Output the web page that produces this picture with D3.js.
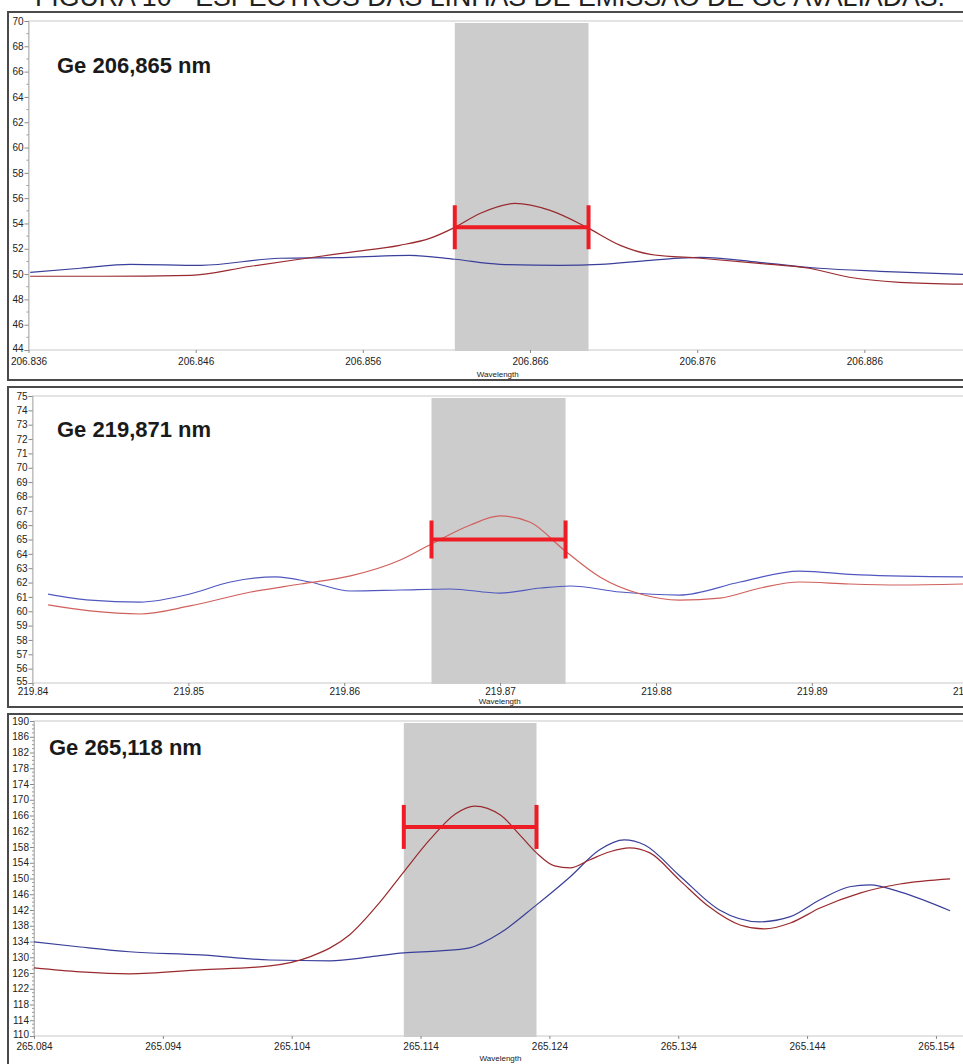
<!DOCTYPE html>
<html>
<head>
<meta charset="utf-8">
<script src="https://cdn.jsdelivr.net/npm/d3@7"></script>
<style>
  html, body { margin: 0; padding: 0; background: #fff; overflow: hidden; }
  svg { display: block; }
  .tick text { font-family: "Liberation Sans Narrow", "Arial Narrow", "Liberation Sans", Arial, sans-serif; font-size: 10px; fill: #222; }
</style>
</head>
<body>
<svg id="chart" width="963" height="1064"></svg>
<script>
// ---- Ge 206,865 nm ----
const ge206RedWl  = [206.8361, 206.8403, 206.8457, 206.8492, 206.8522, 206.8552, 206.8582, 206.8600, 206.8615, 206.8630, 206.8651, 206.8672, 206.8694, 206.8714, 206.8732, 206.8762, 206.8797, 206.8827, 206.8851, 206.8881, 206.8919];
const ge206RedInt = [49.83, 49.83, 49.90, 50.60, 51.17, 51.72, 52.27, 52.82, 53.69, 54.79, 55.58, 55.03, 53.69, 52.27, 51.56, 51.25, 50.85, 50.46, 49.75, 49.35, 49.20];
const ge206BlueWl  = [206.8361, 206.8391, 206.8421, 206.8463, 206.8510, 206.8552, 206.8588, 206.8615, 206.8642, 206.8678, 206.8702, 206.8732, 206.8762, 206.8797, 206.8833, 206.8869, 206.8919];
const ge206BlueInt = [50.14, 50.46, 50.77, 50.69, 51.25, 51.32, 51.48, 51.17, 50.77, 50.69, 50.77, 51.09, 51.32, 50.93, 50.46, 50.22, 49.98];
const ge206Window = [206.8615, 206.8695];
const ge206Level = 53.7;

// ---- Ge 219,871 nm ----
const ge219RedWl  = [219.8410, 219.8437, 219.8469, 219.8501, 219.8540, 219.8572, 219.8604, 219.8636, 219.8656, 219.8681, 219.8700, 219.8719, 219.8741, 219.8764, 219.8790, 219.8815, 219.8841, 219.8867, 219.8892, 219.8924, 219.8956, 219.8997];
const ge219RedInt = [60.44, 60.02, 59.81, 60.37, 61.34, 61.90, 62.46, 63.57, 64.69, 66.01, 66.64, 66.22, 64.27, 62.39, 61.20, 60.78, 60.92, 61.62, 62.04, 61.90, 61.83, 61.90];
const ge219BlueWl  = [219.8410, 219.8437, 219.8469, 219.8501, 219.8527, 219.8556, 219.8578, 219.8604, 219.8636, 219.8668, 219.8700, 219.8726, 219.8745, 219.8777, 219.8815, 219.8854, 219.8892, 219.8931, 219.8997];
const ge219BlueInt = [61.20, 60.78, 60.64, 61.20, 62.04, 62.39, 62.04, 61.41, 61.48, 61.55, 61.27, 61.62, 61.76, 61.34, 61.13, 62.04, 62.80, 62.53, 62.39];
const ge219Window = [219.8656, 219.8742];
const ge219Level = 65.0;

// ---- Ge 265,118 nm ----
const ge265RedWl  = [265.0840, 265.0876, 265.0914, 265.0969, 265.1023, 265.1054, 265.1085, 265.1108, 265.1127, 265.1147, 265.1167, 265.1182, 265.1202, 265.1217, 265.1230, 265.1244, 265.1256, 265.1271, 265.1287, 265.1302, 265.1318, 265.1341, 265.1364, 265.1388, 265.1407, 265.1427, 265.1450, 265.1481, 265.1512, 265.1551];
const ge265RedInt = [127.3, 126.3, 125.8, 126.8, 127.8, 130.1, 135.7, 143.8, 151.7, 159.8, 166.4, 168.4, 166.1, 161.1, 156.5, 153.2, 152.7, 154.7, 156.8, 157.8, 156.5, 149.6, 142.8, 138.2, 137.2, 138.7, 142.5, 146.3, 148.6, 149.9];
const ge265BlueWl  = [265.0840, 265.0876, 265.0914, 265.0969, 265.1023, 265.1070, 265.1101, 265.1127, 265.1155, 265.1178, 265.1202, 265.1230, 265.1256, 265.1279, 265.1298, 265.1314, 265.1341, 265.1372, 265.1403, 265.1427, 265.1450, 265.1473, 265.1489, 265.1512, 265.1551];
const ge265BlueInt = [133.9, 132.6, 131.4, 130.6, 129.3, 129.1, 130.1, 131.1, 131.6, 132.4, 136.2, 143.3, 150.4, 157.3, 159.8, 158.5, 150.7, 142.0, 139.0, 140.3, 144.6, 147.9, 148.4, 146.6, 141.8];
const ge265Window = [265.1127, 265.1230];
const ge265Level = 163.1;

// axis ticks
const ge206XTicks = [206.836, 206.846, 206.856, 206.866, 206.876, 206.886];
const ge219XTicks = [219.84, 219.85, 219.86, 219.87, 219.88, 219.89, 219.90];
const ge265XTicks = [265.084, 265.094, 265.104, 265.114, 265.124, 265.134, 265.144, 265.154];

const titleText = "FIGURA 10 - ESPECTROS DAS LINHAS DE EMISSÃO DE Ge AVALIADAS.";
const panelLabels = ["Ge 206,865 nm", "Ge 219,871 nm", "Ge 265,118 nm"];

const panels = [
  {
    label: panelLabels[0], red: [ge206RedWl, ge206RedInt], blue: [ge206BlueWl, ge206BlueInt],
    window: ge206Window, level: ge206Level, xTicks: ge206XTicks, xFmt: d3.format(".3f"),
    xDomain: [206.836, 206.8919], yDomain: [44, 70], yStep: 2, yMinor: 1,
    frame: [12, 380], plot: { left: 28.5, top: 21, bottom: 350 }, labelPos: [57, 73],
    redColor: "#9a2a2e", blueColor: "#3a3f9a", capHalf: 22,
    xPad: 5, xFont: "Liberation Sans, Arial, sans-serif", titleDy: 27
  },
  {
    label: panelLabels[1], red: [ge219RedWl, ge219RedInt], blue: [ge219BlueWl, ge219BlueInt],
    window: ge219Window, level: ge219Level, xTicks: ge219XTicks, xFmt: d3.format(".2f"),
    xDomain: [219.84, 219.8997], yDomain: [55, 75], yStep: 1, yMinor: null,
    frame: [387, 707], plot: { left: 32.5, top: 396, bottom: 683 }, labelPos: [57, 437],
    redColor: "#d0605c", blueColor: "#5058c0", capHalf: 19,
    xPad: 2, xFont: "Liberation Sans Narrow, Arial Narrow, sans-serif", titleDy: 21
  },
  {
    label: panelLabels[2], red: [ge265RedWl, ge265RedInt], blue: [ge265BlueWl, ge265BlueInt],
    window: ge265Window, level: ge265Level, xTicks: ge265XTicks, xFmt: d3.format(".3f"),
    xDomain: [265.084, 265.1561], yDomain: [110, 190], yStep: 4, yMinor: 1,
    frame: [714, 1075], plot: { left: 34, top: 721, bottom: 1036 }, labelPos: [49, 755],
    redColor: "#9a2a2e", blueColor: "#3a3f9a", capHalf: 22,
    xPad: 4, xFont: "Liberation Sans Narrow, Arial Narrow, sans-serif", titleDy: 25
  }
];

const W = 963;
const svg = d3.select("#chart");

// caption along the top edge
svg.append("text")
  .attr("x", 35).attr("y", 5.5)
  .attr("textLength", 910).attr("lengthAdjust", "spacingAndGlyphs")
  .attr("font-family", "Liberation Sans, Arial, sans-serif")
  .attr("font-size", 27)
  .attr("fill", "#222")
  .text(titleText);

panels.forEach(p => {
  const g = svg.append("g");
  const x = d3.scaleLinear().domain(p.xDomain).range([p.plot.left, W]);
  const y = d3.scaleLinear().domain(p.yDomain).range([p.plot.bottom, p.plot.top]);

  // outer frame
  g.append("rect")
    .attr("x", 8).attr("y", p.frame[0])
    .attr("width", W + 10).attr("height", p.frame[1] - p.frame[0])
    .attr("fill", "#fff").attr("stroke", "#4a4a4a").attr("stroke-width", 2);

  // plot box
  g.append("rect")
    .attr("x", p.plot.left).attr("y", p.plot.top)
    .attr("width", W - p.plot.left + 5).attr("height", p.plot.bottom - p.plot.top)
    .attr("fill", "none").attr("stroke", "#c8c8c8").attr("stroke-width", 1);

  // integration window
  g.append("rect")
    .attr("x", x(p.window[0])).attr("width", x(p.window[1]) - x(p.window[0]))
    .attr("y", p.plot.top + 2).attr("height", p.plot.bottom - p.plot.top - 1)
    .attr("fill", "#cccccc");

  // y axis
  const yMajor = d3.range(p.yDomain[0], p.yDomain[1] + 0.001, p.yStep);
  const yAxis = d3.axisLeft(y).tickValues(yMajor).tickSize(4).tickPadding(1).tickFormat(d3.format("d"));
  const ya = g.append("g").attr("transform", `translate(${p.plot.left},0)`).call(yAxis);
  ya.select(".domain").attr("stroke", "#b8b8b8");
  ya.selectAll(".tick line").attr("stroke", "#888");
  ya.selectAll(".tick text").filter(d => d === p.yDomain[0]).attr("dy", "0.1em");
  if (p.yMinor) {
    const minor = d3.range(p.yDomain[0], p.yDomain[1] + 0.001, p.yMinor).filter(v => !yMajor.includes(v));
    g.append("g").selectAll("line").data(minor).join("line")
      .attr("x1", p.plot.left - 2).attr("x2", p.plot.left)
      .attr("y1", d => y(d)).attr("y2", d => y(d))
      .attr("stroke", "#999");
  }

  // x axis
  const xAxis = d3.axisBottom(x).tickValues(p.xTicks).tickSize(3).tickPadding(p.xPad).tickFormat(p.xFmt);
  const xa = g.append("g").attr("transform", `translate(0,${p.plot.bottom})`).call(xAxis);
  xa.select(".domain").remove();
  xa.selectAll(".tick line").attr("stroke", "#888");
  xa.selectAll(".tick text").style("font-family", p.xFont);

  g.append("text")
    .attr("x", (p.plot.left + W) / 2 + 2).attr("y", p.plot.bottom + p.titleDy)
    .attr("text-anchor", "middle")
    .attr("font-family", "Liberation Sans Narrow, Arial Narrow, Arial, sans-serif")
    .attr("font-size", 8).attr("fill", "#222")
    .text("Wavelength");

  // spectra
  const line = d3.line().x(d => x(d[0])).y(d => y(d[1])).curve(d3.curveMonotoneX);
  const clipId = "clip" + p.frame[0];
  g.append("clipPath").attr("id", clipId).append("rect")
    .attr("x", p.plot.left).attr("y", p.plot.top).attr("width", W).attr("height", p.plot.bottom - p.plot.top);
  const series = [[p.blue, p.blueColor], [p.red, p.redColor]];
  series.forEach(([s, color]) => {
    g.append("path")
      .datum(d3.zip(s[0], s[1]))
      .attr("clip-path", `url(#${clipId})`)
      .attr("fill", "none").attr("stroke", color).attr("stroke-width", 1.2)
      .attr("d", line);
  });

  // window width marker
  const bar = g.append("g").attr("stroke", "#ee1c25").attr("stroke-width", 4);
  bar.append("line")
    .attr("x1", x(p.window[0])).attr("x2", x(p.window[1]))
    .attr("y1", y(p.level)).attr("y2", y(p.level));
  p.window.forEach(w => {
    bar.append("line")
      .attr("x1", x(w)).attr("x2", x(w))
      .attr("y1", y(p.level) - p.capHalf).attr("y2", y(p.level) + p.capHalf);
  });

  // line label
  g.append("text")
    .attr("x", p.labelPos[0]).attr("y", p.labelPos[1])
    .attr("font-family", "Liberation Sans, Arial, sans-serif")
    .attr("font-weight", "bold").attr("font-size", 22).attr("fill", "#1a1a1a")
    .text(p.label);
});
</script>
</body>
</html>
